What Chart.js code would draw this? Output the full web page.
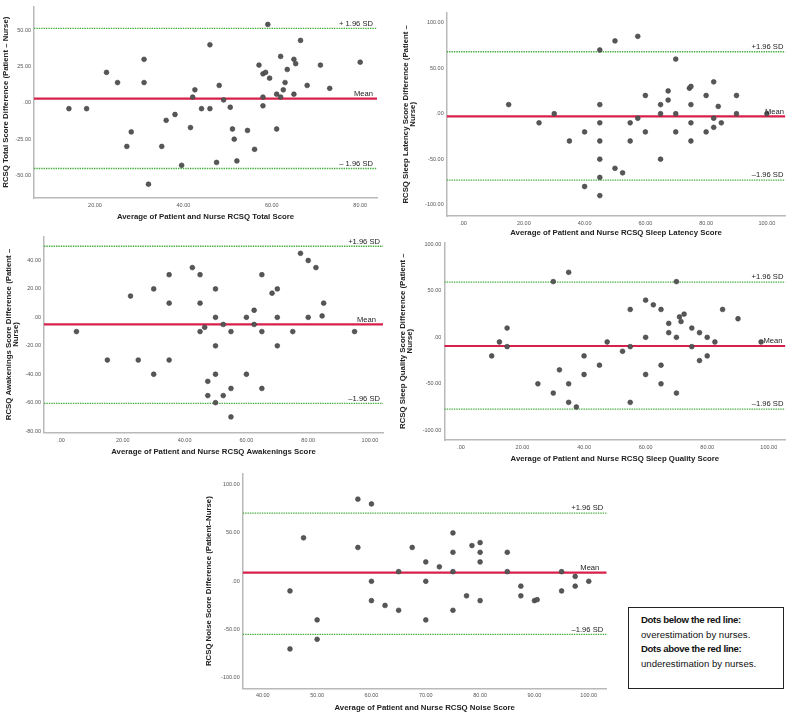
<!DOCTYPE html>
<html>
<head>
<meta charset="utf-8">
<script src="https://cdn.jsdelivr.net/npm/chart.js@4.4.1/dist/chart.umd.min.js"></script>
<style>
  body { margin: 0; background: #fff; }
  #page { position: relative; width: 790px; height: 715px; overflow: hidden; }
  #page canvas { position: absolute; }
  #note {
    position: absolute; left: 628px; top: 607px; width: 156px; height: 82px;
    box-sizing: border-box; border: 1px solid #222; padding: 5px 0 0 12px;
    font-family: "Liberation Sans", Arial, sans-serif; font-size: 9.6px; line-height: 14.5px; color: #111;
  }
  #note b { font-weight: bold; letter-spacing: -0.35px; }
</style>
</head>
<body>
<div id="page">
  <canvas id="cTotal" width="385" height="226" style="left:0px;top:0px"></canvas>
  <canvas id="cLatency" width="395" height="242" style="left:395px;top:0px"></canvas>
  <canvas id="cAwake" width="390" height="230" style="left:0px;top:230px"></canvas>
  <canvas id="cQuality" width="395" height="230" style="left:395px;top:236px"></canvas>
  <canvas id="cNoise" width="425" height="255" style="left:190px;top:460px"></canvas>
  <div id="note">
    <b>Dots below the red line:</b><br>
    overestimation by nurses.<br>
    <b>Dots above the red line:</b><br>
    underestimation by nurses.
  </div>
</div>
<script>
// RCSQ Total score (average vs difference)
const totalAvg = [14.1, 18.1, 22.6, 25.1, 27.2, 28.2, 31.1, 31.1, 32.1, 35.1, 36.1, 38.1, 39.6, 41.6, 42.1, 42.6, 44.1, 46, 46, 47.5,
  48.1, 49.1, 50.6, 51.1, 51.5, 52.1, 54.5, 56.1, 57.1, 58, 58, 58, 58.6, 59.1, 59.5, 61.1, 61.1, 62, 62, 62.6,
  63, 63.5, 65, 65, 65.4, 66.5, 68, 71, 73.1, 80];
const totalDiff = [-4, -4, 21, 14, -30, -20, 30, 14, -56, -30, -12, -8, -43, -17, 4, 9, -4, 40, -4, -41,
  12, 2, -3, -18, -25, -40, -19, -32, 26, 20, 4, -2, 21, 54, 17, 6, -18, 32, 4, 9,
  14, 23, 30, 6, 27, 43, 12, 26, 10, 28];
const totalLimits = [51.3, 2.9, -45.2]; // +1.96 SD, mean, -1.96 SD
const totalXTicks = [20, 40, 60, 80];
const totalYTicks = [-50, -25, 0, 25, 50];

// Sleep latency
const latencyAvg = [15, 25, 30, 35, 40, 40, 45, 45, 45, 45, 45, 45, 45, 50, 50, 52.5, 55, 55, 57.5, 57.5,
  60, 60, 65, 65, 65, 67.5, 67.5, 70, 70, 70, 74.5, 75, 75, 75, 75, 80, 80, 82.5, 82.5, 82.5,
  84, 85, 90, 90, 100];
const latencyDiff = [10, -10, 0, -30, -20, -80, 70, 10, -10, -30, -50, -70, -90, 80, -60, -65, -10, -30, 85, -5,
  20, -20, 10, 0, -50, 25, 15, 60, 0, -20, 28, 30, 10, -10, -30, 20, -20, 35, -5, -15,
  8, -10, 20, 0, 0];
const latencyLimits = [68.1, -2.9, -72.9];
const latencyXTicks = [0, 20, 40, 60, 80, 100];
const latencyYTicks = [-100, -50, 0, 50, 100];

// Awakenings
const awakeAvg = [5, 15, 22.5, 25, 30, 30, 35, 35, 35, 42.5, 45, 45, 45, 46.5, 47.5, 47.5, 50, 50, 50, 50,
  50, 52.5, 52.5, 55, 55, 55, 60, 60, 62.5, 62.5, 65, 65, 65, 68.3, 70, 70, 70, 75, 77.5, 80,
  80, 82.5, 84.5, 85, 95];
const awakeDiff = [-10, -30, 15, -30, 20, -40, 30, 10, -30, 35, 30, 10, -10, -7, -45, -55, 20, 0, -20, -40,
  -60, -5, -55, -10, -50, -70, 0, -40, 5, -5, 30, -10, -50, 17, 20, 0, -20, -10, 45, 40,
  0, 35, 1, 10, -10];
const awakeLimits = [50, -4.9, -60.5];
const awakeXTicks = [0, 20, 40, 60, 80, 100];
const awakeYTicks = [-80, -60, -40, -20, 0, 20, 40];

// Sleep quality
const qualityAvg = [10, 12.5, 15, 15, 25, 30, 30, 32, 35, 35, 35, 37.5, 40, 40, 45, 47.5, 52.5, 55, 55, 55,
  60, 60, 60, 62.5, 65, 65, 65, 67.5, 67.5, 70, 70, 70, 71, 71.5, 72.5, 75, 75, 77.5, 77.5, 80,
  80, 82.5, 85, 90, 97.5];
const qualityDiff = [-20, -5, 10, -10, -50, 60, -60, -35, 70, -50, -70, -75, -20, -40, -30, -5, -15, 30, -10, -70,
  40, 0, -40, 35, 30, -30, -50, 15, 5, 60, 0, -60, 22, 17, 25, 10, -10, 5, -25, 0,
  -20, -5, 30, 20, -5];
const qualityLimits = [59.5, -9.3, -77.3];
const qualityXTicks = [0, 20, 40, 60, 80, 100];
const qualityYTicks = [-100, -50, 0, 50, 100];

// Noise
const noiseAvg = [45, 45, 47.5, 50, 50, 57.5, 57.5, 60, 60, 60, 62.5, 65, 65, 67.5, 70, 70, 70, 72.5, 75, 75,
  75, 75, 77.5, 78.5, 80, 80, 80, 80, 85, 85, 87.5, 87.5, 90, 90.5, 95, 95, 97.5, 97.5, 100];
const noiseDiff = [-10, -70, 45, -40, -60, 85, 35, 80, 0, -20, -25, 10, -30, 35, 20, 0, -40, 15, 50, 30,
  10, -30, -15, 37, 40, 30, 20, -20, 30, 10, -5, -15, -20, -19, 10, -10, 5, -5, 0];
const noiseLimits = [70.6, 9, -55];
const noiseXTicks = [40, 50, 60, 70, 80, 90, 100];
const noiseYTicks = [-100, -50, 0, 50, 100];

const FONT = '"Liberation Sans", Arial, sans-serif';
const RED = '#d8204a';
const GREEN = '#43ad3c';

// SPSS style: ".00" for zero, two decimals otherwise
const fmt = (v) => (v === 0 ? '.00' : Number(v).toFixed(2));

// label text drawn just above each reference line
const refLabels = {
  id: 'refLabels',
  afterDatasetsDraw(chart, args, opts) {
    const { ctx, chartArea } = chart;
    const y = chart.scales.y;
    ctx.save();
    ctx.font = '7.6px ' + FONT;
    ctx.fillStyle = '#222';
    ctx.textAlign = 'right';
    ctx.textBaseline = 'bottom';
    (opts.items || []).forEach((it) => {
      ctx.fillText(it.text, chartArea.right - it.inset, y.getPixelForValue(it.value) - 1);
    });
    ctx.restore();
  },
};

const refLine = (value, xMin, xMax, color, width, dash) => ({
  data: [{ x: xMin, y: value }, { x: xMax, y: value }],
  showLine: true,
  borderColor: color,
  borderWidth: width,
  borderDash: dash,
  pointRadius: 0,
  fill: false,
});

const drawPanel = (id, p) => {
  const ctx = document.getElementById(id).getContext('2d');
  const [upper, mean, lower] = p.limits;
  const sd = p.sdText;
  return new Chart(ctx, {
    type: 'scatter',
    data: {
      datasets: [
        {
          data: p.x.map((v, i) => ({ x: v, y: p.y[i] })),
          backgroundColor: '#575757',
          borderColor: '#3c3c3c',
          borderWidth: 0.6,
          pointRadius: 2.4,
        },
        refLine(mean, p.xRange[0], p.xRange[1], RED, 2.2, []),
        refLine(upper, p.xRange[0], p.xRange[1], GREEN, 1.3, [1.4, 1]),
        refLine(lower, p.xRange[0], p.xRange[1], GREEN, 1.3, [1.4, 1]),
      ],
    },
    plugins: [refLabels],
    options: {
      responsive: false,
      animation: false,
      events: [],
      layout: { padding: p.pad },
      plugins: {
        legend: { display: false },
        tooltip: { enabled: false },
        refLabels: {
          items: [
            { value: upper, text: sd[0], inset: p.insets[0] },
            { value: mean, text: 'Mean', inset: p.insets[1] },
            { value: lower, text: sd[1], inset: p.insets[2] },
          ],
        },
      },
      scales: {
        x: {
          type: 'linear',
          min: p.xRange[0],
          max: p.xRange[1],
          afterBuildTicks: (s) => { s.ticks = p.xTicks.map((v) => ({ value: v })); },
          afterFit: (s) => { s.height = p.xAxisH; },
          grid: { display: false, drawTicks: false },
          border: { display: true, color: '#b9b9b9', width: 1.5 },
          ticks: { font: { size: 5.5, family: FONT }, color: '#555', padding: 4, maxRotation: 0, autoSkip: false, callback: fmt },
          title: {
            display: true, text: p.xTitle, color: '#222',
            font: { size: 7.8, weight: 'bold', family: FONT, lineHeight: 1.2 },
            padding: { top: 0, bottom: p.xTitlePad },
          },
        },
        y: {
          type: 'linear',
          min: p.yRange[0],
          max: p.yRange[1],
          afterBuildTicks: (s) => { s.ticks = p.yTicks.map((v) => ({ value: v })); },
          afterFit: (s) => { s.width = p.yAxisW; },
          grid: { display: false, drawTicks: false },
          border: { display: true, color: '#b9b9b9', width: 1.5 },
          ticks: { font: { size: 5.5, family: FONT }, color: '#555', padding: 3, autoSkip: false, callback: fmt },
          title: {
            display: true, text: p.yTitle, color: '#222',
            font: { size: 7.8, weight: 'bold', family: FONT, lineHeight: Array.isArray(p.yTitle) ? 0.9 : 1.2 },
            padding: { top: p.yTitlePad, bottom: 0 },
          },
        },
      },
    },
  });
};

drawPanel('cTotal', {
  x: totalAvg, y: totalDiff, limits: totalLimits, xTicks: totalXTicks, yTicks: totalYTicks,
  xRange: [6.2, 83.8], yRange: [-65.5, 66.5],
  pad: { top: 2, right: 8, left: 0, bottom: 0 }, yAxisW: 34, xAxisH: 28, xTitlePad: 4.3, yTitlePad: 1.4,
  xTitle: 'Average of Patient and Nurse RCSQ Total Score',
  yTitle: 'RCSQ Total Score Difference (Patient – Nurse)',
  sdText: ['+ 1.96 SD', '– 1.96 SD'], insets: [4, 4, 4],
});

drawPanel('cLatency', {
  x: latencyAvg, y: latencyDiff, limits: latencyLimits, xTicks: latencyXTicks, yTicks: latencyYTicks,
  xRange: [-5.4, 106.1], yRange: [-112.4, 111],
  pad: { top: 12.7, right: 3, left: 0, bottom: 0 }, yAxisW: 51.7, xAxisH: 26, xTitlePad: 4, yTitlePad: 7.3,
  xTitle: 'Average of Patient and Nurse RCSQ Sleep Latency Score',
  yTitle: ['RCSQ Sleep Latency Score Difference (Patient –', 'Nurse)'],
  sdText: ['+1.96 SD', '–1.96 SD'], insets: [2, 1.5, 2],
});

drawPanel('cAwake', {
  x: awakeAvg, y: awakeDiff, limits: awakeLimits, xTicks: awakeXTicks, yTicks: awakeYTicks,
  xRange: [-5.5, 104.2], yRange: [-81.1, 57],
  pad: { top: 4, right: 7, left: 0, bottom: 0 }, yAxisW: 44, xAxisH: 27.3, xTitlePad: 3.6, yTitlePad: 4.9,
  xTitle: 'Average of Patient and Nurse RCSQ Awakenings Score',
  yTitle: ['RCSQ Awakenings Score Difference (Patient –', 'Nurse)'],
  sdText: ['+1.96 SD', '–1.96 SD'], insets: [3, 7, 3],
});

drawPanel('cQuality', {
  x: qualityAvg, y: qualityDiff, limits: qualityLimits, xTicks: qualityXTicks, yTicks: qualityYTicks,
  xRange: [-5.4, 105.4], yRange: [-110.5, 102.3],
  pad: { top: 5, right: 2.3, left: 0, bottom: 0 }, yAxisW: 49.3, xAxisH: 26, xTitlePad: 2.3, yTitlePad: 4.6,
  xTitle: 'Average of Patient and Nurse RCSQ Sleep Quality Score',
  yTitle: ['RCSQ Sleep Quality Score Difference (Patient –', 'Nurse)'],
  sdText: ['+1.96 SD', '–1.96 SD'], insets: [2, 3, 2],
});

drawPanel('cNoise', {
  x: noiseAvg, y: noiseDiff, limits: noiseLimits, xTicks: noiseXTicks, yTicks: noiseYTicks,
  xRange: [36.3, 103.3], yRange: [-110.7, 111],
  pad: { top: 14, right: 8.3, left: 0, bottom: 0 }, yAxisW: 52.7, xAxisH: 26.7, xTitlePad: 2, yTitlePad: 13.7,
  xTitle: 'Average of Patient and Nurse RCSQ Noise Score',
  yTitle: 'RCSQ Noise Score Difference (Patient–Nurse)',
  sdText: ['+1.96 SD', '–1.96 SD'], insets: [3.5, 7.4, 3.5],
});
</script>
</body>
</html>
